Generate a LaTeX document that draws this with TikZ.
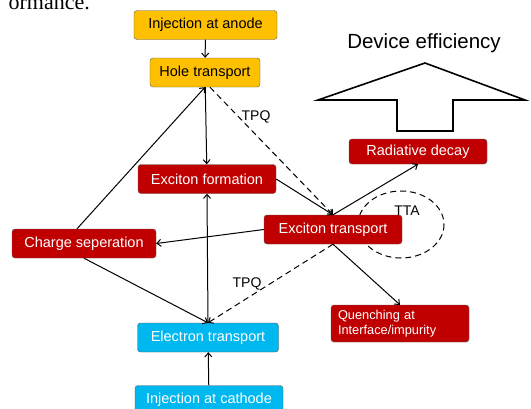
\documentclass[tikz,border=0pt]{standalone}
\usepackage{fontspec}
\setmainfont{Liberation Sans}
\newfontfamily\pagefont{Liberation Serif}
\usetikzlibrary{arrows, arrows.meta, shapes}
\definecolor{oledred}{HTML}{C00000}
\definecolor{oledorange}{HTML}{FFC000}
\definecolor{oledblue}{HTML}{00B8F0}

\begin{document}
\begin{tikzpicture}[x=1pt, y=-1pt, >={Straight Barb[length=4pt, width=7pt]}]
\tikzstyle{box_h}=[rectangle, rounded corners=3pt, fill=oledorange, draw=black!65, text=black, minimum height=29pt, inner sep=1pt, font=\fontsize{14.5}{16}\selectfont]
\tikzstyle{box_x}=[rectangle, rounded corners=3pt, fill=oledred, draw=black!65, text=white, minimum height=29pt, inner sep=1pt, font=\fontsize{14.5}{16}\selectfont]
\tikzstyle{box_e}=[rectangle, rounded corners=3pt, fill=oledblue, draw=black!65, text=white, minimum height=29pt, inner sep=1pt, font=\fontsize{14.5}{16}\selectfont]
\tikzstyle{lbl}=[inner sep=0pt, font=\fontsize{14}{16}\selectfont]

\useasboundingbox (0,0) rectangle (531,408);

% text of the page, cut off
\node[anchor=base east, inner sep=0pt, font=\pagefont\fontsize{22}{24}\selectfont] (PG) at (90,9) {ormance.};

% triplet-triplet annihilation loop
\draw[dashed, dash pattern=on 6pt off 4pt, line width=1] (401,224.5) ellipse (43 and 33.5);

\path (205.5,25) node[box_h, minimum width=143pt](IA) {Injection at anode}
      (205,72.5) node[box_h, minimum width=110pt](HT) {Hole transport}
      (207,179) node[box_x, minimum width=138pt](EF) {Exciton formation}
      (333,229.5) node[box_x, minimum width=138pt](ET) {Exciton transport}
      (84,243.5) node[box_x, minimum width=144pt](CS) {Charge seperation}
      (418,151.5) node[box_x, minimum width=138pt, minimum height=25pt](RD) {Radiative decay}
      (400,323.5) node[box_x, minimum width=138pt, minimum height=37pt, text width=124pt, align=left, font=\fontsize{12.8}{15}\selectfont](QU) {Quenching at\\Interface/impurity}
      (208,337.5) node[box_e, minimum width=141pt](EL) {Electron transport}
      (209,400) node[box_e, minimum width=148pt](IC) {Injection at cathode};

\draw[->, line width=1] (IA) -- (HT);
\draw[->, line width=1] (HT) -- (EF);
\draw[->, line width=1] (IC) -- (EL);
\draw[->, line width=1] (EL.north) -- (EF.south);
\draw[->, line width=1] ([xshift=-7]CS.north) -- (HT.south);
\draw[->, line width=1] (CS.south) -- (EL.north);
\draw[->, line width=1] (EF.east) -- (ET.north);
\draw[->, line width=1] (ET.west) -- (CS.east);
\draw[->, line width=1] (ET.north) -- (RD.south);
\draw[->, line width=1] (ET.south) -- (QU.north);
\draw[->, dashed, dash pattern=on 6pt off 4pt, line width=1] ([xshift=5]HT.south) -- (ET.north);
\draw[->, dashed, dash pattern=on 6pt off 4pt, line width=1] (ET.south) -- (EL.north);

\node[lbl] (TPQa) at (256,117) {TPQ};
\node[lbl] (TPQb) at (247,284) {TPQ};
\node[lbl] (TTA) at (407,211) {TTA};

% efficiency arrow
\node[inner sep=0pt, font=\fontsize{20.5}{22}\selectfont] (DE) at (424,43) {Device efficiency};
\draw[line width=1.6, fill=white] (425,63) -- (525,100) -- (453,100) -- (453,131) -- (397,131) -- (397,100) -- (318,100) -- cycle;

\end{tikzpicture}
\end{document}
